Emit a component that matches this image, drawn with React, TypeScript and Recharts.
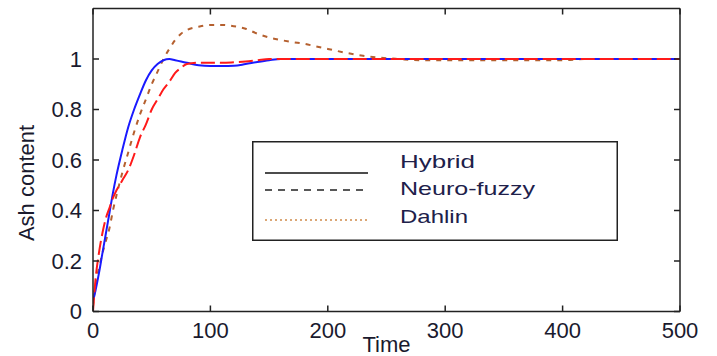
import React from 'react';
import { LineChart, Line, XAxis, YAxis, Legend } from 'recharts';

// time samples shared by all three responses
const time = [0, 2, 5, 8, 11, 14, 17, 20, 25, 30, 35, 40, 45, 50, 55, 60, 65, 70, 75, 80, 90, 100, 110, 120, 130, 140, 150, 160, 170, 180, 190, 200, 215, 230, 245, 260, 280, 300, 350, 400, 420, 450, 500];

const hybrid = [0.04, 0.08, 0.15, 0.23, 0.31, 0.39, 0.47, 0.54, 0.64, 0.73, 0.8, 0.86, 0.915, 0.955, 0.98, 0.995, 1.0, 0.995, 0.99, 0.985, 0.975, 0.972, 0.972, 0.973, 0.98, 0.988, 0.995, 1.0, 1.0, 1.0, 1.0, 1.0, 1.0, 1.0, 1.0, 1.0, 1.0, 1.0, 1.0, 1.0, 1.0, 1.0, 1.0];

const neuroFuzzy = [0.0, 0.12, 0.23, 0.31, 0.37, 0.41, 0.45, 0.48, 0.52, 0.56, 0.62, 0.69, 0.74, 0.8, 0.84, 0.88, 0.91, 0.945, 0.965, 0.98, 0.985, 0.985, 0.985, 0.987, 0.99, 0.995, 1.0, 1.0, 1.0, 1.0, 1.0, 1.0, 1.0, 1.0, 1.0, 1.0, 1.0, 1.0, 1.0, 1.0, 1.0, 1.0, 1.0];

const dahlin = [0.02, 0.1, 0.17, 0.23, 0.28, 0.33, 0.4, 0.46, 0.55, 0.63, 0.71, 0.78, 0.84, 0.9, 0.95, 1.0, 1.04, 1.075, 1.1, 1.115, 1.128, 1.135, 1.135, 1.13, 1.12, 1.1, 1.085, 1.075, 1.067, 1.06, 1.05, 1.04, 1.025, 1.013, 1.005, 1.0, 0.995, 0.995, 0.995, 0.995, 1.0, 1.0, 1.0];

const xTicks = [0, 100, 200, 300, 400, 500];
const yTicks = [0, 0.2, 0.4, 0.6, 0.8, 1];
const legendLabels = ['Hybrid', 'Neuro-fuzzy', 'Dahlin'];

const data = time.map((t, i) => ({
  t,
  hybrid: hybrid[i],
  neuroFuzzy: neuroFuzzy[i],
  dahlin: dahlin[i],
}));

const tickFont = { fontFamily: 'Liberation Sans, Arial, sans-serif', fontSize: 22, fill: '#1a1a2e' };
const axisColor = '#222';

// legend swatches (black like the original figure)
const legendLines = [
  { stroke: '#111', dash: undefined, width: 1.5 },
  { stroke: '#222', dash: '7 6', width: 1.5 },
  { stroke: '#d08a4a', dash: '2 3', width: 1.5 },
];
const legendTextLen = [75, 135, 68];

const LegendBox = () => (
  <svg width={366} height={100} style={{ display: 'block' }}>
    <rect x={0.75} y={0.75} width={364.5} height={98.5} fill="#fff" stroke={axisColor} strokeWidth={1.5} />
    {legendLabels.map((label, i) => (
      <g key={label}>
        <line
          x1={13}
          x2={116}
          y1={[32, 49, 79][i]}
          y2={[32, 49, 79][i]}
          stroke={legendLines[i].stroke}
          strokeWidth={legendLines[i].width}
          strokeDasharray={legendLines[i].dash}
        />
        <text
          x={148}
          y={[27, 54, 82][i]}
          fontFamily="Liberation Sans, Arial, sans-serif"
          fontSize={19}
          fill="#20204a"
          textLength={legendTextLen[i]}
          lengthAdjust="spacingAndGlyphs"
        >
          {label}
        </text>
      </g>
    ))}
  </svg>
);

const YLabel = (props: any) => {
  const vb = props.viewBox || {};
  const x = 26;
  const y = vb.y + vb.height / 2 + 23;
  return (
    <text
      x={x}
      y={y}
      transform={`rotate(-90 ${x} ${y})`}
      textAnchor="middle"
      dominantBaseline="central"
      fontFamily="Liberation Sans, Arial, sans-serif"
      fontSize={22}
      fill="#1a1a2e"
    >
      Ash content
    </text>
  );
};

export default function App() {
  return (
    <div style={{ position: 'absolute', left: 0, top: 0, background: '#fff' }}>
      <LineChart width={717} height={356} data={data} margin={{ top: 7.5, right: 36, bottom: 0, left: 0 }}>
        <XAxis
          dataKey="t"
          type="number"
          domain={[0, 500]}
          ticks={xTicks}
          allowDataOverflow
          height={44.5}
          tickSize={-6}
          tickMargin={16.5}
          tick={tickFont}
          stroke={axisColor}
          axisLine={{ stroke: axisColor, strokeWidth: 1.5 }}
          tickLine={{ stroke: axisColor, strokeWidth: 1.5 }}
          label={{ value: 'Time', position: 'insideBottom', offset: 4, style: { ...tickFont } }}
        />
        <XAxis
          xAxisId="top"
          orientation="top"
          dataKey="t"
          type="number"
          domain={[0, 500]}
          ticks={xTicks}
          allowDataOverflow
          height={1}
          tickSize={-6}
          tickMargin={0}
          tick={{ fontSize: 0 }}
          tickFormatter={() => ''}
          stroke={axisColor}
          axisLine={{ stroke: axisColor, strokeWidth: 1.5 }}
          tickLine={{ stroke: axisColor, strokeWidth: 1.5 }}
        />
        <YAxis
          type="number"
          domain={[0, 1.2]}
          ticks={yTicks}
          allowDataOverflow
          width={93}
          tickSize={-6}
          tickMargin={17}
          tick={tickFont}
          tickFormatter={(v: number) => String(v)}
          axisLine={{ stroke: axisColor, strokeWidth: 1.5 }}
          tickLine={{ stroke: axisColor, strokeWidth: 1.5 }}
          label={{ content: YLabel }}
        />
        <YAxis
          yAxisId="right"
          orientation="right"
          type="number"
          domain={[0, 1.2]}
          ticks={yTicks}
          allowDataOverflow
          width={1}
          tickSize={-6}
          tickMargin={0}
          tick={{ fontSize: 0 }}
          tickFormatter={() => ''}
          stroke={axisColor}
          axisLine={{ stroke: axisColor, strokeWidth: 1.5 }}
          tickLine={{ stroke: axisColor, strokeWidth: 1.5 }}
        />
        <Legend
          layout="horizontal"
          verticalAlign="middle"
          align="center"
          content={() => <LegendBox />}
          wrapperStyle={{ position: 'absolute', left: 252, top: 141, width: 366, height: 100 }}
        />
        <Line
          type="monotone"
          dataKey="dahlin"
          stroke="#b5602f"
          strokeWidth={2}
          strokeDasharray="5 6"
          dot={false}
          isAnimationActive={false}
        />
        <Line
          type="monotone"
          dataKey="hybrid"
          stroke="#1a1aff"
          strokeWidth={2}
          dot={false}
          isAnimationActive={false}
        />
        <Line
          type="monotone"
          dataKey="neuroFuzzy"
          stroke="#ff1a1a"
          strokeWidth={2}
          strokeDasharray="14 5"
          dot={false}
          isAnimationActive={false}
        />
      </LineChart>
    </div>
  );
}
